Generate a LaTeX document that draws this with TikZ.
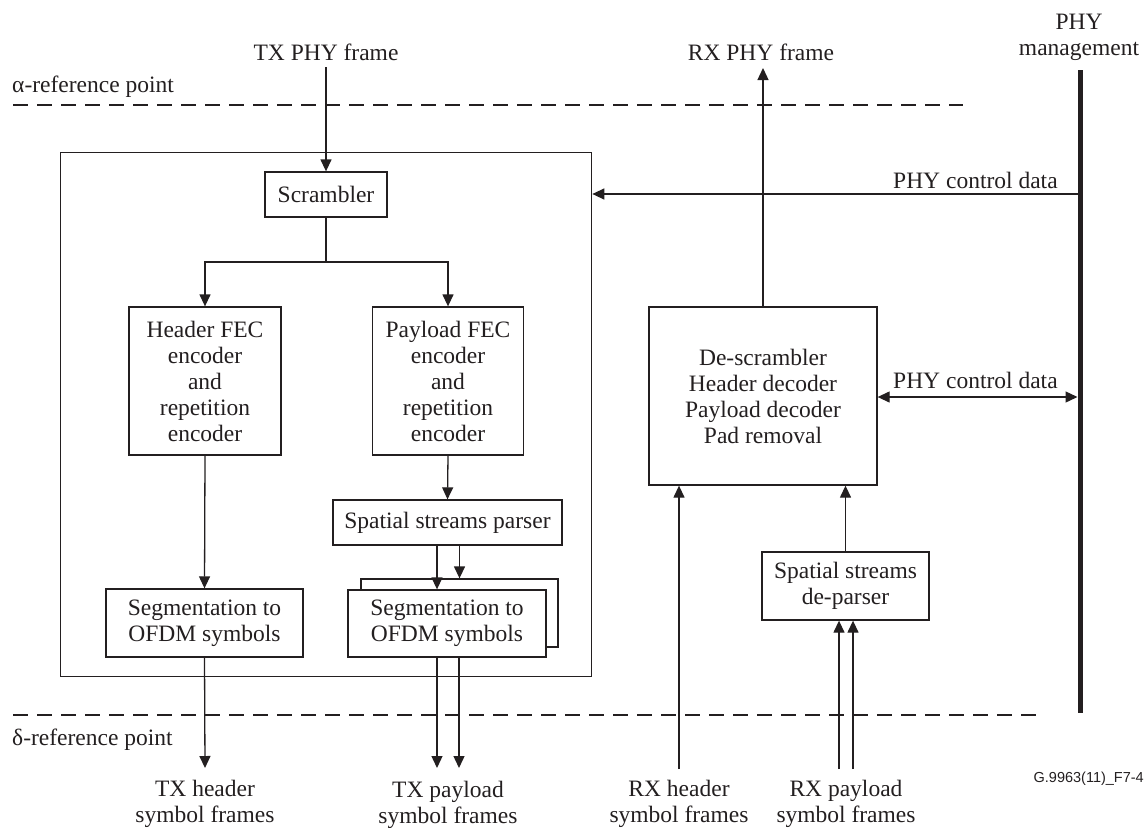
\documentclass[tikz,border=0pt]{standalone}
\usepackage{fontspec}
\setmainfont{Liberation Serif}
\newfontfamily\labelsans{Liberation Sans}
\usetikzlibrary{arrows.meta,calc}
\definecolor{ink}{RGB}{35,31,32}
\begin{document}
\begin{tikzpicture}[x=1pt,y=-1pt,
  box/.style={draw=ink, line width=1.3pt, fill=white, align=center, inner sep=0pt,
    font=\fontsize{23.5}{26}\selectfont, text=ink},
  lbl/.style={inner sep=0pt, align=center, font=\fontsize{23.5}{26}\selectfont, text=ink},
  ln/.style={draw=ink, line width=1.3pt},
  arr/.style={draw=ink, line width=1.3pt, -{Triangle[length=12pt,width=11pt]}},
  darr/.style={draw=ink, line width=1.3pt, {Triangle[length=12pt,width=11pt]}-{Triangle[length=12pt,width=11pt]}},
  refline/.style={draw=ink, line width=1.3pt, dash pattern=on 15pt off 9pt},
  bar/.style={draw=ink, line width=5pt}]
\useasboundingbox (0,0) rectangle (1148,827);

% reference lines
\coordinate (a1) at (13,105);
\coordinate (a2) at (963,105);
\coordinate (d1) at (13,715);
\coordinate (d2) at (1043,715);
\draw[refline] (a1) -- (a2);
\draw[refline] (d1) -- (d2);
\node[lbl, anchor=base west] (alpha) at (12,92) {α-reference point};
\node[lbl, anchor=base west] (delta) at (12,745) {δ-reference point};

% transmitter block
\node[box, minimum width=531pt, minimum height=524pt] (big) at (326.2,414.2) {};
\node[box, minimum width=122pt, minimum height=45pt] (scr) at (326,194.5) {Scrambler};
\node[box, minimum width=152pt, minimum height=148pt] (hfec) at (205,381)
  {Header FEC\\encoder\\and\\repetition\\encoder};
\node[box, minimum width=151pt, minimum height=148pt] (pfec) at (448,381)
  {Payload FEC\\encoder\\and\\repetition\\encoder};
\node[box, minimum width=229pt, minimum height=45pt] (parser) at (447.5,522.5) {Spatial streams parser};
\node[box, minimum width=197pt, minimum height=68pt] (seg1) at (204.5,623) {Segmentation to\\OFDM symbols};
\node[box, minimum width=197pt, minimum height=68pt] (seg2b) at (459.5,613) {};
\node[box, minimum width=198pt, minimum height=67pt] (seg2) at (447,623.5) {Segmentation to\\OFDM symbols};

% receiver blocks
\node[box, minimum width=228pt, minimum height=178pt] (desc) at (763,396)
  {De-scrambler\\Header decoder\\Payload decoder\\Pad removal};
\node[box, minimum width=167pt, minimum height=68pt] (dpar) at (845.5,586) {Spatial streams\\de-parser};

% top labels
\node[lbl, anchor=base] (txphy) at (326,60) {TX PHY frame};
\node[lbl, anchor=base] (rxphy) at (761,60) {RX PHY frame};
\node[lbl] (phym) at (1079,37) {PHY\\management};

% PHY management bar
\coordinate (bartop) at (1080,70);
\coordinate (barbot) at (1080,713);
\draw[bar] (bartop) -- (barbot);

% TX path
\draw[arr] ($(txphy.base)+(0,7)$) -- (scr.north);
\coordinate (split) at (326,262);
\draw[ln] (scr.south) -- (split);
\draw[arr] (split) -| (hfec.north);
\draw[arr] (split) -| (pfec.north);
\draw[arr] (hfec.south) -- (seg1.north);
\draw[arr] (pfec.south) -- (parser.north);
\draw[arr] ([xshift=-10.5pt]parser.south) -- ([xshift=-10pt]seg2.north);
\draw[arr] (parser.south -| seg2b.north) -- (seg2b.north);

% TX outputs
\coordinate (th) at (205,768);
\coordinate (tp1) at (437,768);
\coordinate (tp2) at (459,768);
\draw[arr] (seg1.south) -- (th);
\draw[arr] ([xshift=-10pt]seg2.south) -- (tp1);
\draw[arr] ([xshift=12pt]seg2.south) -- (tp2);
\node[lbl] (txh) at (205,804) {TX header\\symbol frames};
\node[lbl] (txp) at (448,805) {TX payload\\symbol frames};

% RX inputs
\coordinate (rh) at (679,769);
\coordinate (rp1) at (839,769);
\coordinate (rp2) at (853,769);
\draw[arr] (rh) -- (rh |- desc.south);
\draw[arr] (rp1) -- (rp1 |- dpar.south);
\draw[arr] (rp2) -- (rp2 |- dpar.south);
\draw[arr] (dpar.north) -- (dpar.north |- desc.south);
\node[lbl] (rxh) at (679,804) {RX header\\symbol frames};
\node[lbl] (rxp) at (846,804) {RX payload\\symbol frames};

% RX output
\coordinate (rxtop) at (763,68);
\draw[arr] (desc.north) -- (rxtop);

% control data
\coordinate (c1) at (1080,194);
\coordinate (c2) at (1077.5,397);
\draw[arr] (c1) -- (big.east |- c1);
\draw[darr] (desc.east |- c2) -- (c2);
\node[lbl, anchor=base west] (pcd1) at (893,188) {PHY control data};
\node[lbl, anchor=base west] (pcd2) at (893,388) {PHY control data};

% figure id
\node[lbl, anchor=base east, font=\labelsans\fontsize{14.5}{16}\selectfont] (figid) at (1144,782) {G.9963(11)\_F7-4};
\end{tikzpicture}
\end{document}
